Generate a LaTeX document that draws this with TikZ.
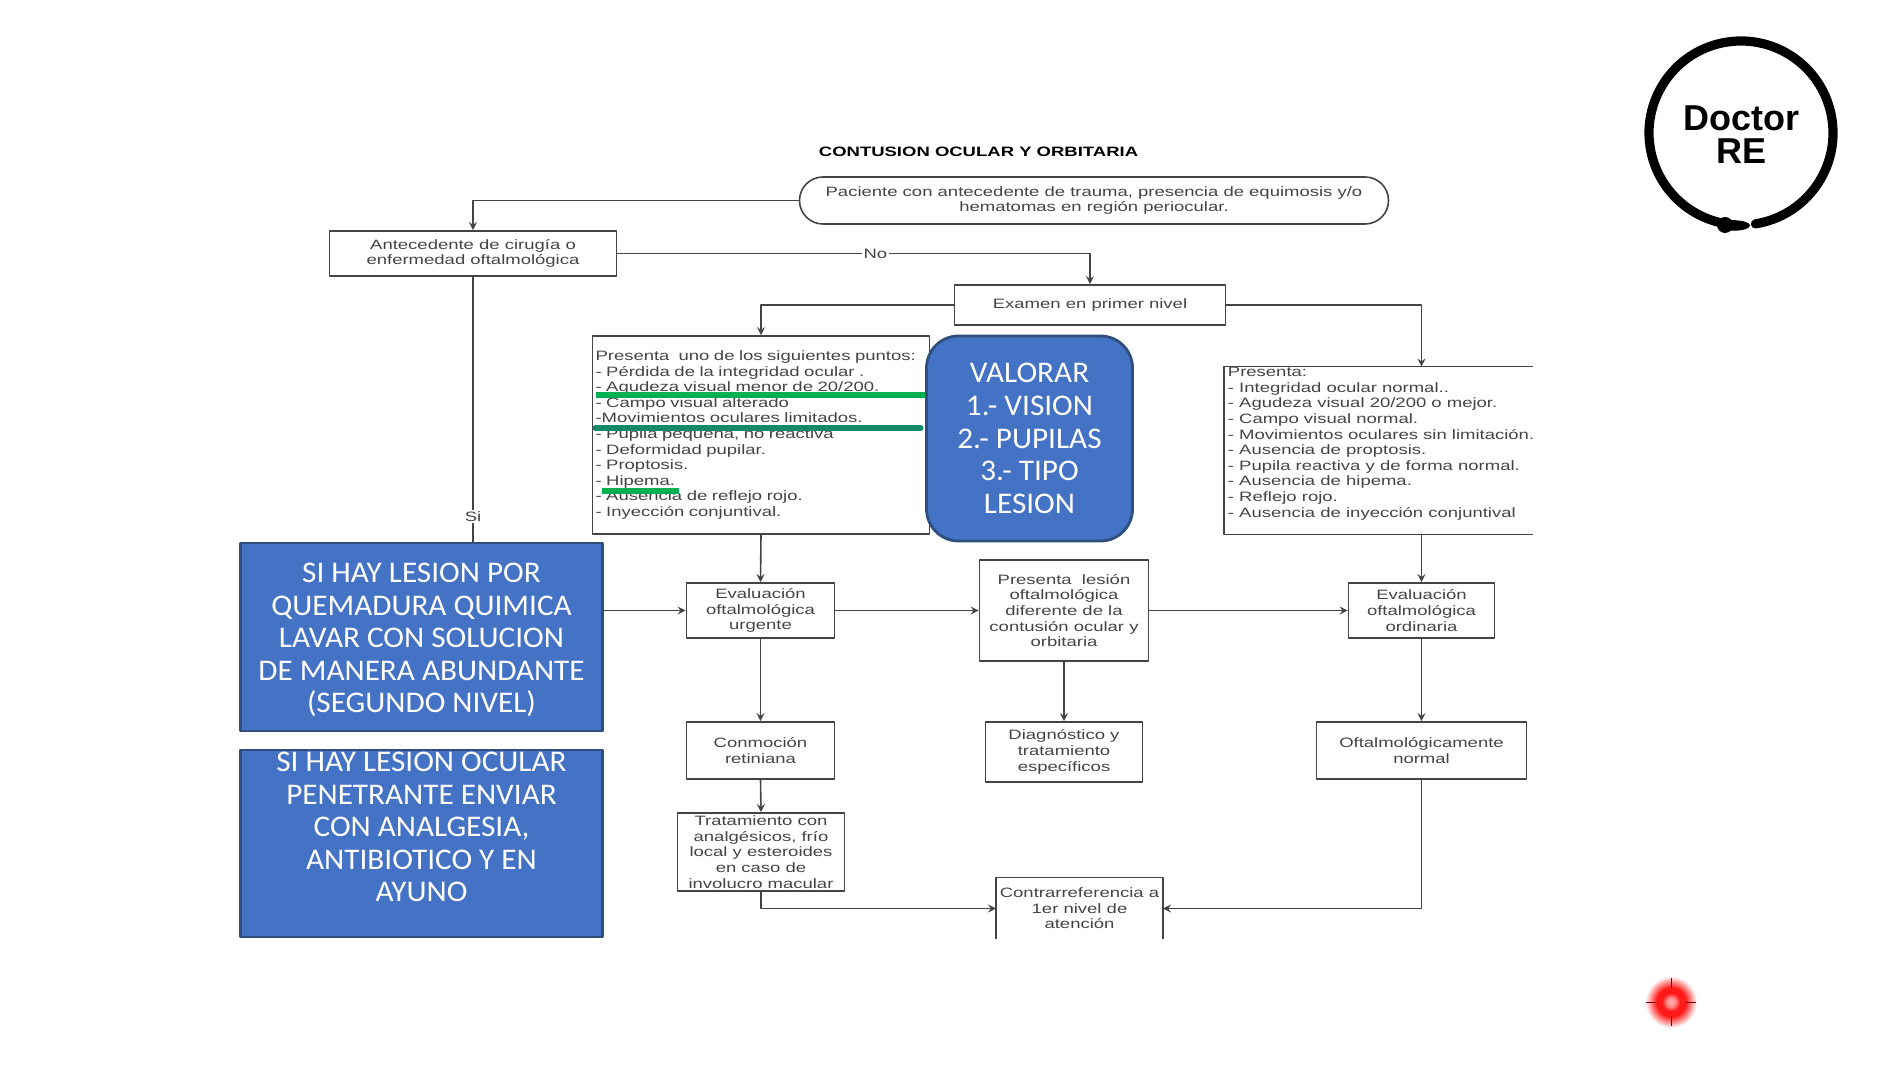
\documentclass[tikz,border=0pt]{standalone}
\usepackage{fontspec}
\setmainfont{Liberation Sans}[FakeStretch=1.36]
\newfontfamily\bluefont{Carlito}[FakeStretch=1.04]
\newfontfamily\logofont{Liberation Sans}
\usetikzlibrary{positioning}
\definecolor{inkgray}{HTML}{444444}
\definecolor{blueface}{HTML}{4472C4}
\definecolor{blueedge}{HTML}{2F4F7F}
\definecolor{marker}{HTML}{00B050}
\definecolor{markerdark}{HTML}{128A6A}
\pgfdeclareradialshading{laserdot}{\pgfpointorigin}{color(0bp)=(red!30!white);color(4bp)=(red!45!white);color(8bp)=(red!90!white);color(13bp)=(red!90!white);color(18bp)=(red!45!white);color(23bp)=(white);color(50bp)=(white)}
\tikzset{
    flowbox/.style={draw=inkgray, line width=.8pt, align=center, inner sep=0pt, text=inkgray, font=\fontsize{6.8}{7.8}\selectfont},
    listtext/.style={align=left, inner sep=0pt, text=inkgray, font=\fontsize{6.8}{7.8}\selectfont},
    bluebox/.style={draw=blueedge, fill=blueface, line width=1.4pt, inner sep=0pt},
    bluetext/.style={align=center, inner sep=0pt, text=white, font=\bluefont\fontsize{15}{16.3}\selectfont},
    flowline/.style={draw=inkgray, line width=.8pt, ->},
    flowlabel/.style={fill=white, inner sep=.8pt, text=inkgray, font=\fontsize{6.8}{7.8}\selectfont}
}
\begin{document}
\begin{tikzpicture}[x=.5pt, y=-.5pt, >=stealth, line join=round]
    \useasboundingbox (0,0) rectangle (1884,1079);
    \begin{scope}[shift={(.5,1)}]
    \node[text=black, inner sep=0pt, font=\bfseries\fontsize{6.8}{7.8}\selectfont] (titulo) at (978,151) {CONTUSION OCULAR Y ORBITARIA};
    % upper row
    \node[flowbox, minimum width=294.5pt, minimum height=23.5pt, rounded corners=11.7pt] (paciente) at (1093.5,199.5) {Paciente con antecedente de trauma, presencia de equimosis y/o\\hematomas en región periocular.};
    \node[flowbox, minimum width=143.5pt, minimum height=22.5pt] (ante) at (472.5,252.5) {Antecedente de cirugía o\\enfermedad oftalmológica};
    \node[flowbox, minimum width=135.5pt, minimum height=20pt] (examen) at (1089.5,304) {Examen en primer nivel};
    % lists
    \node[flowbox, minimum width=168.5pt, minimum height=99pt, text width=165.5pt, align=left] (signos) at (760.5,434) {Presenta \ uno de los siguientes puntos:\\- Pérdida de la integridad ocular .\\- Agudeza visual menor de 20/200.\\- Campo visual alterado\\-Movimientos oculares limitados.\\- Pupila pequeña, no reactiva\\- Deformidad pupilar.\\- Proptosis.\\- Hipema.\\- Ausencia de reflejo rojo.\\- Inyección conjuntival.};
    \node[minimum width=154pt, minimum height=83.5pt, inner sep=0pt] (normal) at (1378,449.5) {};
    \draw[draw=inkgray, line width=.8pt] (normal.north east) -- (normal.north west) -- (normal.south west) -- (normal.south east);
    \node[listtext, anchor=north west] (normaltxt) at (1227,366) {Presenta:\\- Integridad ocular normal..\\- Agudeza visual 20/200 o mejor.\\- Campo visual normal.\\- Movimientos oculares sin limitación.\\- Ausencia de proptosis.\\- Pupila reactiva y de forma normal.\\- Ausencia de hipema.\\- Reflejo rojo.\\- Ausencia de inyección conjuntival};
    % highlights
    \draw[marker, line width=3pt] (595,394.5) -- (926,394.5);
    \draw[markerdark, line width=3pt, line cap=round] (595,427) -- (920,427);
    \draw[marker, line width=3pt] (601,490) -- (678,490);
    % blue notes
    \node[bluebox, bluetext, minimum width=103pt, minimum height=102.5pt, rounded corners=16pt] (valorar) at (1029,437.5) {VALORAR\\1.- VISION\\2.- PUPILAS\\3.- TIPO\\LESION};
    \node[bluebox, minimum width=181pt, minimum height=94pt] (lavar) at (421,636) {};
    \node[bluetext] (lavartxt) at (421,639) {SI HAY LESION POR\\QUEMADURA QUIMICA\\LAVAR CON SOLUCION\\DE MANERA ABUNDANTE\\(SEGUNDO NIVEL)};
    \node[bluebox, minimum width=181pt, minimum height=93.5pt] (penetrante) at (421,842.5) {};
    \node[bluetext] (penetrantetxt) at (421,826) {SI HAY LESION OCULAR\\PENETRANTE ENVIAR\\CON ANALGESIA,\\ANTIBIOTICO Y EN\\AYUNO};
    % middle row
    \node[flowbox, minimum width=74pt, minimum height=27.5pt] (urgente) at (760,609.5) {Evaluación\\oftalmológica\\urgente};
    \node[flowbox, minimum width=84.5pt, minimum height=50.5pt] (lesion) at (1063.5,609.5) {Presenta \ lesión\\oftalmológica\\diferente de la\\contusión ocular y\\orbitaria};
    \node[flowbox, minimum width=73pt, minimum height=27.5pt] (ordinaria) at (1421,609.5) {Evaluación\\oftalmológica\\ordinaria};
    % lower rows
    \node[flowbox, minimum width=74pt, minimum height=28.5pt] (conmocion) at (760,749.5) {Conmoción\\retiniana};
    \node[flowbox, minimum width=78.5pt, minimum height=30pt] (diagnostico) at (1063.5,751) {Diagnóstico y\\tratamiento\\específicos};
    \node[flowbox, minimum width=105pt, minimum height=28.5pt] (ofta) at (1421,749.5) {Oftalmológicamente\\normal};
    \node[flowbox, minimum width=83.5pt, minimum height=39pt] (tratamiento) at (760.5,851) {Tratamiento con\\analgésicos, frío\\local y esteroides\\en caso de\\involucro macular};
    \node[minimum width=83pt, minimum height=30.5pt, inner sep=0pt, align=center, text=inkgray, font=\fontsize{6.8}{7.8}\selectfont] (contra) at (1079,907.5) {Contrarreferencia a\\1er nivel de\\atención};
    \draw[draw=inkgray, line width=.8pt] (contra.south west) -- (contra.north west) -- (contra.north east) -- (contra.south east);
    % connectors
    \draw[flowline] (paciente.west) -| (ante.north);
    \draw[flowline] (ante.east) -| node[flowlabel, pos=.273] {No} (examen.north);
    \draw[flowline] (examen.west) -| (signos.north);
    \draw[flowline] (examen.east) -| (ordinaria.north |- normal.north);
    \draw[draw=inkgray, line width=.8pt] (ante.south) -- node[flowlabel, pos=.906] {Si} (ante.south |- lavar.north);
    \draw[flowline] (signos.south) -- (urgente.north);
    \draw[flowline] (ordinaria.north |- normal.south) -- (ordinaria.north);
    \draw[flowline] (lavar.east |- urgente.west) -- (urgente.west);
    \draw[flowline] (urgente.east) -- (lesion.west);
    \draw[flowline] (lesion.east) -- (ordinaria.west);
    \draw[flowline] (urgente.south) -- (conmocion.north);
    \draw[flowline] (conmocion.south) -- (tratamiento.north);
    \draw[flowline] (lesion.south) -- (diagnostico.north);
    \draw[flowline] (ordinaria.south) -- (ofta.north);
    \draw[flowline] (tratamiento.south) |- (contra.west);
    \draw[flowline] (ofta.south) |- (contra.east);
    \end{scope}
    % logo
    \coordinate (logo) at (1741,133);
    \draw[line width=4.6pt, line cap=round] (logo) ++(-81:46pt) arc[start angle=-81, end angle=266, radius=46pt];
    \fill (1725,225) circle (4pt);
    \fill (1734,225.5) ellipse (8pt and 2.6pt);
    \node[inner sep=0pt, align=center, font=\logofont\bfseries\fontsize{18}{16.5}\selectfont] (logotxt) at (1741,135) {Doctor\\RE};
    % laser pointer
    \shade[shading=laserdot] (1671,1002) circle (14pt);
    \draw[red!45!black, line width=.5pt] (1646,1002) -- (1656,1002) (1686,1002) -- (1696,1002) (1671,978) -- (1671,988) (1671,1016) -- (1671,1026);
\end{tikzpicture}
\end{document}
